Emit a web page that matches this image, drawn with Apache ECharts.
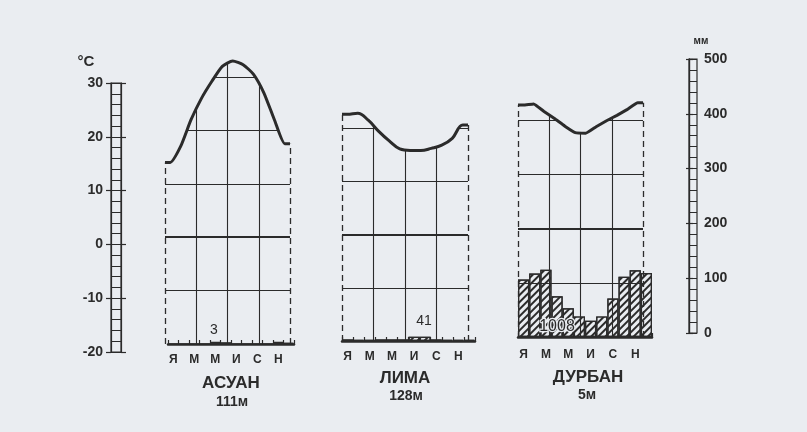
<!DOCTYPE html>
<html><head><meta charset="utf-8">
<script src="https://cdn.jsdelivr.net/npm/echarts@6/dist/echarts.min.js"></script>
<style>html,body{margin:0;padding:0;background:#eaedf1;}#c{width:807px;height:432px;}</style>
</head><body><div id="c"></div>
<script>
// ---- data ----
const months = ['Я','Ф','М','А','М','И','И','А','С','О','Н','Д'];
const aswanTemp   = [14, 17, 22, 26, 29.2, 32, 33, 32.3, 30.5, 27, 22, 17.5];
const aswanPrecip = [0, 0, 0, 0, 4, 3, 0, 0, 0, 0, 4, 2];
const limaTemp    = [22.6, 22.8, 21.5, 19.4, 17.6, 16.1, 15.8, 15.8, 16.2, 16.8, 18.1, 20.6];
const limaPrecip  = [3, 2, 2, 3, 3, 3, 8, 8, 3, 2, 2, 2];
const durbanTemp  = [22.8, 23, 21.6, 20.3, 18.9, 17.7, 17.6, 18.8, 19.9, 20.9, 22, 23.2];
const durbanPrecip= [106, 117, 124, 75, 53, 38, 30, 38, 71, 111, 123, 118];
const stationNames = ['АСУАН', 'ЛИМА', 'ДУРБАН'];
const elevations   = ['111м', '128м', '5м'];
const annualTotals = ['3', '41', '1008'];
const tempAxisMin = -20, tempAxisMax = 30, tempMajor = 10, tempMinorSplit = 5;
const precipAxisMin = 0, precipAxisMax = 500, precipMajor = 100, precipMinorSplit = 5;
const tempGridLines = [-10, 0, 10, 20, 30];
const monthDividers = [3, 6, 9];
const frameEdges = [0, 12];

// ---- layout / style ----
const BG = '#eaedf1', INK = '#2b2b2b', FONT = 'Liberation Sans';
const PAD = 0.6;             // months of extra frame space at each side (for masking)
const stations = [
  {temp: aswanTemp,  precip: aswanPrecip,  frame:{left:165, width:125, top:23.6, bottom:88}, barLeft:168, barWidth:126, smooth:0.2,
   nameXY:[231,383], elevXY:[232,402], totalXY:[214,330], monthMargin:10},
  {temp: limaTemp,   precip: limaPrecip,   frame:{left:342, width:126, top:21.8, bottom:91}, barLeft:342, barWidth:133, smooth:0.4,
   nameXY:[405,378], elevXY:[406,396], totalXY:[424,321], monthMargin:10},
  {temp: durbanTemp, precip: durbanPrecip, frame:{left:518, width:125, top:11.8, bottom:95}, barLeft:518, barWidth:134, smooth:0.1,
   nameXY:[588,377], elevXY:[587,395], totalXY:[557,327], monthMargin:12}
];
const totalFont = ['14px', '14px', '16px'];

const grids = [
  {left:111, top:83, width:10, height:269, show:true, borderColor:INK, borderWidth:1.2, backgroundColor:'transparent'},
  {left:689, top:59, width:8, height:274, show:true, borderColor:INK, borderWidth:1.2, backgroundColor:'transparent'}
];
const xAxes = [
  {gridIndex:0, type:'value', show:false, min:0, max:1},
  {gridIndex:1, type:'value', show:false, min:0, max:1}
];
const lineStyleInk = {color:INK, width:1.2};
const labelStyle = {color:INK, fontFamily:FONT, fontWeight:'bold', fontSize:14};
const yAxes = [
  {gridIndex:0, type:'value', min:tempAxisMin, max:tempAxisMax, interval:tempMajor, position:'left',
   axisLine:{show:true, lineStyle:lineStyleInk}, axisTick:{show:true, length:5, lineStyle:lineStyleInk},
   axisLabel:Object.assign({margin:8}, labelStyle),
   splitLine:{show:true, lineStyle:{color:INK, width:1}},
   minorTick:{show:false, splitNumber:tempMinorSplit}, minorSplitLine:{show:true, lineStyle:{color:INK, width:1}}},
  {gridIndex:0, type:'value', min:tempAxisMin, max:tempAxisMax, interval:tempMajor, position:'right',
   axisLine:{show:true, lineStyle:lineStyleInk}, axisTick:{show:true, length:5, lineStyle:lineStyleInk},
   axisLabel:{show:false}, splitLine:{show:false}},
  {gridIndex:1, type:'value', min:precipAxisMin, max:precipAxisMax, interval:precipMajor, position:'right',
   axisLine:{show:true, lineStyle:lineStyleInk}, axisTick:{show:true, length:4, lineStyle:lineStyleInk},
   axisLabel:Object.assign({margin:7}, labelStyle),
   splitLine:{show:true, lineStyle:{color:INK, width:1}},
   minorTick:{show:false, splitNumber:precipMinorSplit}, minorSplitLine:{show:true, lineStyle:{color:INK, width:1}}},
  {gridIndex:1, type:'value', min:precipAxisMin, max:precipAxisMax, interval:precipMajor, position:'left',
   axisLine:{show:true, lineStyle:lineStyleInk}, axisTick:{show:true, length:3, lineStyle:lineStyleInk},
   axisLabel:{show:false}, splitLine:{show:false}}
];
const series = [];
const graphics = [];

function buildPoints(t, x0, x1) {
  return [[x0, t[0]]].concat(t.map((v, i) => [i + 0.5, v]), [[x1, t[t.length - 1]]]);
}

stations.forEach((s, i) => {
  const pxPerMonth = s.frame.width / 12;
  const fg = grids.length;
  grids.push({left:s.frame.left - PAD * pxPerMonth, width:s.frame.width + 2 * PAD * pxPerMonth, top:s.frame.top, bottom:s.frame.bottom});
  const bg = grids.length;
  grids.push({left:s.barLeft, width:s.barWidth, top:s.frame.top, bottom:s.frame.bottom});
  const fx = xAxes.length;
  xAxes.push({gridIndex:fg, type:'value', min:-PAD, max:12 + PAD, show:false});
  const bx = xAxes.length;
  xAxes.push({gridIndex:bg, type:'category', data:months, boundaryGap:true,
    axisLine:{show:true, lineStyle:{color:INK, width:2.5}},
    axisTick:{show:true, inside:true, length:4, interval:0, lineStyle:{color:INK, width:1.2}},
    axisLabel:{interval:1, color:INK, fontFamily:FONT, fontWeight:'bold', fontSize:12, margin:s.monthMargin}});
  const fy = yAxes.length;
  yAxes.push({gridIndex:fg, type:'value', min:-20, max:40, show:false, splitLine:{show:false}});
  const by = yAxes.length;
  yAxes.push({gridIndex:bg, type:'value', min:0, max:600, show:false, splitLine:{show:false}});

  const mlData = [];
  tempGridLines.forEach(v => mlData.push([
    {coord:[0, v], lineStyle:{color:INK, width: v === 0 ? 2.2 : 1.1, type:'solid'}}, {coord:[12, v]}]));
  monthDividers.forEach(v => mlData.push([
    {coord:[v, -20], lineStyle:{color:INK, width:1.1, type:'solid'}}, {coord:[v, 38]}]));
  frameEdges.forEach(v => mlData.push([
    {coord:[v, -20], lineStyle:{color:INK, width:1.3, type:[6,4]}}, {coord:[v, 38]}]));

  series.push({
    type:'bar', xAxisIndex:bx, yAxisIndex:by, data:s.precip, barCategoryGap:'0%', z:2,
    silent:true, animation:false,
    itemStyle:{color:BG, borderColor:INK, borderWidth:1.2,
      decal:{symbol:'rect', symbolSize:1, color:INK, dashArrayX:[1,0], dashArrayY:[1.2,3], rotation:-Math.PI/4}}
  });
  // mask above the temperature curve (hides grid lines there)
  series.push({
    type:'line', xAxisIndex:fx, yAxisIndex:fy, data:buildPoints(s.temp, -PAD, 12 + PAD), smooth:s.smooth,
    symbol:'none', z:9, silent:true, animation:false,
    lineStyle:{width:0, opacity:0},
    areaStyle:{color:BG, opacity:1, origin:'end'},
    markLine:{z:3, silent:true, symbol:'none', animation:false, label:{show:false}, data:mlData}
  });
  // temperature curve
  series.push({
    type:'line', xAxisIndex:fx, yAxisIndex:fy, data:buildPoints(s.temp, 0, 12), smooth:s.smooth,
    symbol:'none', z:10, silent:true, animation:false,
    lineStyle:{color:INK, width:3}
  });

  graphics.push({type:'text', x:s.nameXY[0], y:s.nameXY[1], z:100,
    style:{text:stationNames[i], fill:INK, font:'bold 17px "Liberation Sans"', textAlign:'center', textVerticalAlign:'middle'}});
  graphics.push({type:'text', x:s.elevXY[0], y:s.elevXY[1], z:100,
    style:{text:elevations[i], fill:INK, font:'bold 14px "Liberation Sans"', textAlign:'center', textVerticalAlign:'middle'}});
  graphics.push({type:'text', x:s.totalXY[0], y:s.totalXY[1], z:100,
    style:{text:annualTotals[i], fill:INK, stroke:BG, lineWidth:2.5, font: totalFont[i] + ' "Liberation Sans"', textAlign:'center', textVerticalAlign:'middle'}});
});

graphics.push({type:'text', x:86, y:62, z:100,
  style:{text:'°C', fill:INK, font:'bold 15px "Liberation Sans"', textAlign:'center', textVerticalAlign:'middle'}});
graphics.push({type:'text', x:701, y:41, z:100,
  style:{text:'мм', fill:INK, font:'bold 10px "Liberation Sans"', textAlign:'center', textVerticalAlign:'middle'}});

const chart = echarts.init(document.getElementById('c'), null, {renderer:'canvas', width:807, height:432});
chart.setOption({
  backgroundColor: BG,
  animation:false,
  grid: grids, xAxis: xAxes, yAxis: yAxes, series: series, graphic: graphics
});
</script>
</body></html>
